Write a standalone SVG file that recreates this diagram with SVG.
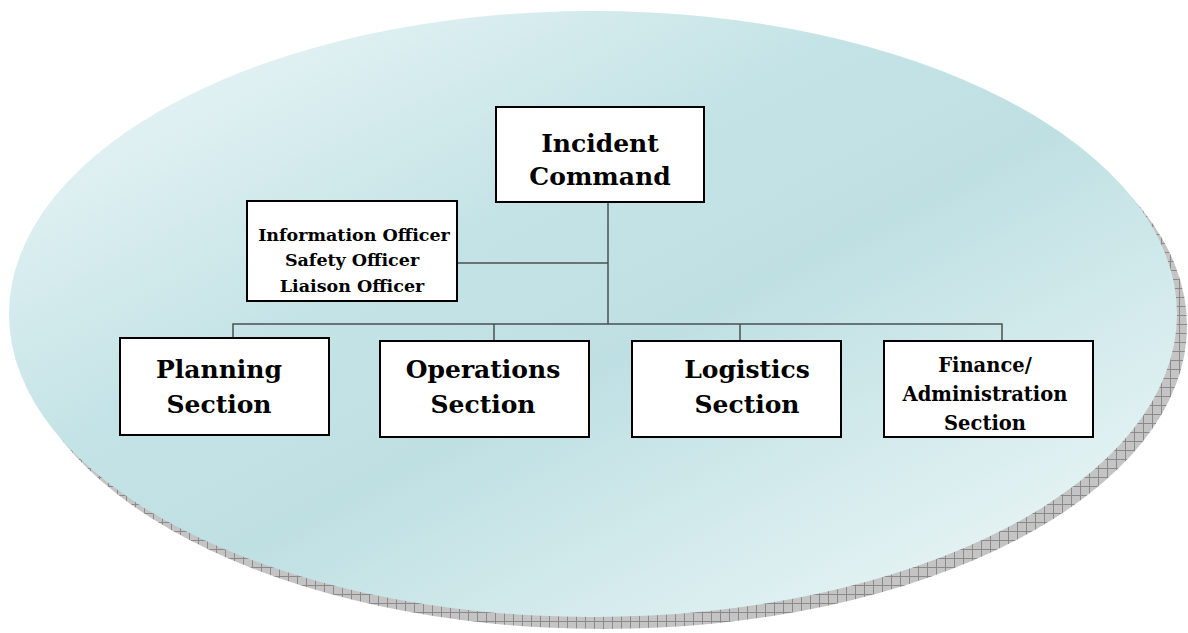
<svg xmlns="http://www.w3.org/2000/svg" width="1188" height="633" viewBox="0 0 1188 633">
<defs>
<linearGradient id="bg" x1="0" y1="0" x2="1" y2="1">
<stop offset="0" stop-color="#f2f9fa"/>
<stop offset="0.38" stop-color="#c4e3e6"/>
<stop offset="0.55" stop-color="#bfe0e3"/>
<stop offset="1" stop-color="#f3fafa"/>
</linearGradient>
<pattern id="grid" width="9" height="9" patternUnits="userSpaceOnUse">
<rect width="9" height="9" fill="#c4c4c4"/>
<path d="M0 0.5H9M0.5 0V9" stroke="#8a8a8a" stroke-width="1"/>
</pattern>
<style>
.box{fill:#fff;stroke:#000;stroke-width:2}
.lbl{font-family:"DejaVu Serif","Liberation Serif",serif;font-weight:bold;fill:#000;text-anchor:middle}
.big{font-size:25px}
.sm{font-size:17.5px}
.md{font-size:19.5px}
.con{fill:none;stroke:#4a4f50;stroke-width:1.5}
</style>
</defs>
<rect width="1188" height="633" fill="#fff"/>
<g id="background">
<ellipse cx="603" cy="326" rx="584" ry="303" fill="url(#grid)"/>
<ellipse cx="593" cy="314" rx="584" ry="303" fill="url(#bg)"/>
</g>
<g id="connectors">
<path class="con" d="M608 202V324"/>
<path class="con" d="M457 263H608"/>
<path class="con" d="M233 338V324H1002V341"/>
<path class="con" d="M494 324V341"/>
<path class="con" d="M740 324V341"/>
</g>
<g id="incident-command">
<rect class="box" x="496" y="107" width="208" height="95"/>
<text class="lbl big" x="600" y="152">Incident</text>
<text class="lbl big" x="600" y="185">Command</text>
</g>
<g id="officers">
<rect class="box" x="247" y="201" width="210" height="100"/>
<text class="lbl sm" x="354" y="241">Information Officer</text>
<text class="lbl sm" x="352" y="266">Safety Officer</text>
<text class="lbl sm" x="352" y="292">Liaison Officer</text>
</g>
<g id="planning">
<rect class="box" x="120" y="338" width="209" height="97"/>
<text class="lbl big" x="219" y="378">Planning</text>
<text class="lbl big" x="219" y="413">Section</text>
</g>
<g id="operations">
<rect class="box" x="380" y="341" width="209" height="96"/>
<text class="lbl big" x="483" y="378">Operations</text>
<text class="lbl big" x="483" y="413">Section</text>
</g>
<g id="logistics">
<rect class="box" x="632" y="341" width="209" height="96"/>
<text class="lbl big" x="747" y="378">Logistics</text>
<text class="lbl big" x="747" y="413">Section</text>
</g>
<g id="finance">
<rect class="box" x="884" y="341" width="209" height="96"/>
<text class="lbl md" x="985" y="372">Finance/</text>
<text class="lbl md" x="985" y="401">Administration</text>
<text class="lbl md" x="985" y="430">Section</text>
</g>
</svg>
